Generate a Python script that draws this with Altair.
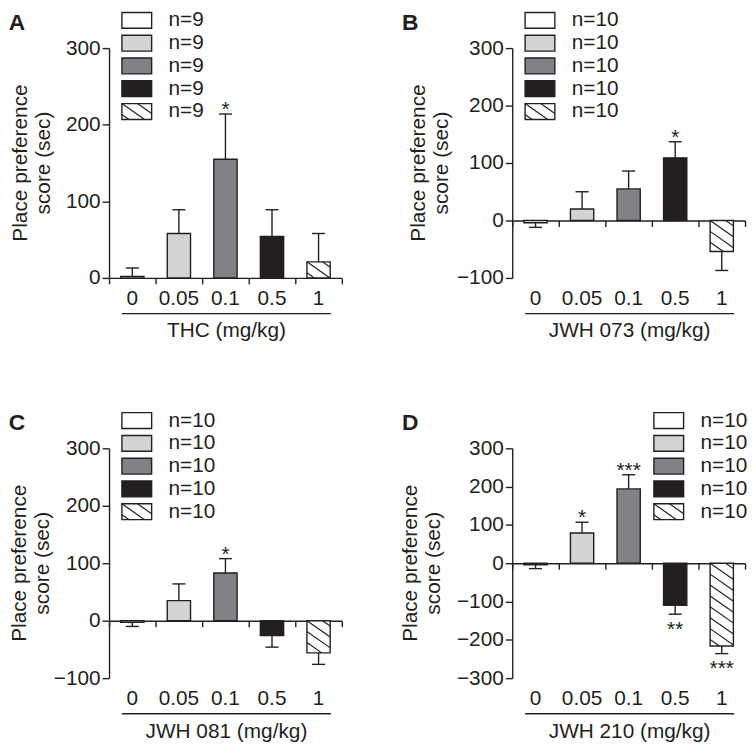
import math
import altair as alt
import pandas as pd

# ---------------- data ----------------
doses = ["0", "0.05", "0.1", "0.5", "1"]
panel_letters = ["A", "B", "C", "D"]
drug_titles = ["THC (mg/kg)", "JWH 073 (mg/kg)", "JWH 081 (mg/kg)", "JWH 210 (mg/kg)"]
group_labels = ["n=9", "n=10", "n=10", "n=10"]

means_thc = [2, 58, 155, 54, 21]
errs_thc = [11, 31, 59, 35, 37]
stars_thc = ["", "", "*", "", ""]

means_073 = [-4, 20, 55, 109, -54]
errs_073 = [8, 30, 31, 28, 33]
stars_073 = ["", "", "", "*", ""]

means_081 = [-3, 35, 83, -26, -56]
errs_081 = [7, 29, 25, 20, 20]
stars_081 = ["", "", "*", "", ""]

means_210 = [-4, 79, 194, -110, -216]
errs_210 = [10, 28, 37, 23, 20]
stars_210 = ["", "*", "***", "**", "***"]

y_domains = [[0, 300], [-100, 300], [-100, 300], [-300, 300]]
y_ticks = [
    [0, 100, 200, 300],
    [-100, 0, 100, 200, 300],
    [-100, 0, 100, 200, 300],
    [-300, -200, -100, 0, 100, 200, 300],
]

all_means = [means_thc, means_073, means_081, means_210]
all_errs = [errs_thc, errs_073, errs_081, errs_210]
all_stars = [stars_thc, stars_073, stars_081, stars_210]

# ---------------- style ----------------
fills = ["#ffffff", "#d1d3d4", "#808285", "#231f20", "#ffffff"]
hatched = [False, False, False, False, True]
INK = "#231f20"
FONT = "Liberation Sans"
FS = 21
W, H = 235, 232
BAR_HALF = 0.25
CAP_HALF = 0.14
HATCH_SLOPE = 0.7
HATCH_GAP = 11
SW = 1.4

letter_x = [-93, -103, -93, -103]
title1_x = [-89, -94, -90, -102]
title2_x = [-66, -71, -67, -79]
legend_x = [13, 13, 13, 143]


def hatch_segments(x0, x1, y0, y1, slope=HATCH_SLOPE, gap=HATCH_GAP):
    """Diagonal hatch lines (pixel space) clipped to rectangle, y grows downward."""
    segs = []
    w = x1 - x0
    k = -int(math.ceil(slope * w / gap)) - 1
    while True:
        c = y0 + k * gap
        if c > y1:
            break
        if c >= y0:
            ex, ey = x0, c
        else:
            ex, ey = x0 + (y0 - c) / slope, y0
        yr = c + slope * w
        if yr <= y1:
            fx, fy = x1, yr
        else:
            fx, fy = x0 + (y1 - c) / slope, y1
        if ex < x1 and fx - ex > 0.5:
            segs.append((ex, ey, fx, fy))
        k += 1
    return segs


def make_panel(i):
    means, errs, stars = all_means[i], all_errs[i], all_stars[i]
    ymin, ymax = y_domains[i]
    xscale = alt.Scale(domain=[-0.5, 4.5], nice=False, zero=False)
    yscale = alt.Scale(domain=[ymin, ymax], nice=False, zero=False)
    ppx = W / 5.0
    ppy = H / float(ymax - ymin)

    rows = []
    for k in range(5):
        m, e = means[k], errs[k]
        sgn = 1 if m >= 0 else -1
        rows.append(dict(pos=k, dose=doses[k], mean=m, end=m + sgn * e,
                         x0=k - BAR_HALF, x1=k + BAR_HALF,
                         c0=k - CAP_HALF, c1=k + CAP_HALF,
                         star=stars[k], fill=fills[k], up=bool(sgn > 0)))
    df = pd.DataFrame(rows)

    zero_from_top = (ymax - 0) * ppy
    x_axis = alt.Axis(values=[k - 0.5 for k in range(6)], labels=False, title=None,
                      tickSize=6, offset=-(H - zero_from_top), grid=False,
                      domainWidth=SW, tickWidth=SW, domainColor=INK, tickColor=INK)
    y_axis = alt.Axis(values=y_ticks[i], title=None, tickSize=7, labelPadding=2,
                      grid=False, format="d", domainWidth=SW, tickWidth=SW,
                      domainColor=INK, tickColor=INK, labelFont=FONT,
                      labelFontSize=FS, labelColor=INK)

    def X(f):
        return alt.X(f, scale=xscale, axis=x_axis)

    def Y(f):
        return alt.Y(f, scale=yscale, axis=y_axis)

    layers = []
    bars = alt.Chart(df).mark_rect(stroke=INK, strokeWidth=SW).encode(
        x=X("x0:Q"), x2="x1:Q",
        y=Y("mean:Q"), y2=alt.datum(0),
        fill=alt.Fill("fill:N", scale=None, legend=None))
    layers.append(bars)

    # hatch inside hatched bars (computed from the bar value via the panel scales)
    hrows = []
    for k in range(5):
        if not hatched[k]:
            continue
        m = means[k]
        px0 = (k - BAR_HALF + 0.5) * ppx
        px1 = (k + BAR_HALF + 0.5) * ppx
        ptop = (ymax - max(m, 0)) * ppy
        pbot = (ymax - min(m, 0)) * ppy
        for (ax, ay, bx, by) in hatch_segments(px0, px1, ptop, pbot):
            hrows.append(dict(hx=ax / ppx - 0.5, hy=ymax - ay / ppy,
                              hx2=bx / ppx - 0.5, hy2=ymax - by / ppy))
    if hrows:
        hatch = alt.Chart(pd.DataFrame(hrows)).mark_rule(color=INK, strokeWidth=1.2).encode(
            x=X("hx:Q"), x2="hx2:Q", y=Y("hy:Q"), y2="hy2:Q")
        layers.append(hatch)

    err = alt.Chart(df).mark_rule(color=INK, strokeWidth=SW).encode(
        x=X("pos:Q"), y=Y("mean:Q"), y2="end:Q")
    cap = alt.Chart(df).mark_rule(color=INK, strokeWidth=SW).encode(
        x=X("c0:Q"), x2="c1:Q", y=Y("end:Q"))
    layers += [err, cap]

    star_up = alt.Chart(df).transform_filter("datum.star != '' && datum.up").mark_text(
        font=FONT, fontSize=FS, color=INK, baseline="alphabetic", dy=2).encode(
        x=X("pos:Q"), y=Y("end:Q"), text="star:N")
    star_dn = alt.Chart(df).transform_filter("datum.star != '' && !datum.up").mark_text(
        font=FONT, fontSize=FS, color=INK, baseline="alphabetic", dy=22).encode(
        x=X("pos:Q"), y=Y("end:Q"), text="star:N")
    layers += [star_up, star_dn]

    labels = alt.Chart(df).mark_text(font=FONT, fontSize=FS, color=INK, baseline="middle").encode(
        x=X("pos:Q"), y=alt.value(H + 21), text="dose:N")
    layers.append(labels)

    one = pd.DataFrame({"k": [0]})
    underline = alt.Chart(one).mark_rule(color=INK, strokeWidth=SW).encode(
        x=alt.value(13), x2=alt.value(W - 11), y=alt.value(H + 36))
    xtitle = alt.Chart(pd.DataFrame({"t": [drug_titles[i]]})).mark_text(
        font=FONT, fontSize=FS, color=INK, baseline="middle").encode(
        x=alt.value((13 + W - 11) / 2.0), y=alt.value(H + 54), text="t:N")
    yt1 = alt.Chart(pd.DataFrame({"t": ["Place preference"]})).mark_text(
        font=FONT, fontSize=FS, color=INK, baseline="middle", angle=270).encode(
        x=alt.value(title1_x[i]), y=alt.value(H / 2.0), text="t:N")
    yt2 = alt.Chart(pd.DataFrame({"t": ["score (sec)"]})).mark_text(
        font=FONT, fontSize=FS, color=INK, baseline="middle", angle=270).encode(
        x=alt.value(title2_x[i]), y=alt.value(H / 2.0), text="t:N")
    letter = alt.Chart(pd.DataFrame({"t": [panel_letters[i]]})).mark_text(
        font=FONT, fontSize=23, fontWeight="bold", color=INK, baseline="middle").encode(
        x=alt.value(letter_x[i]), y=alt.value(-25), text="t:N")
    layers += [underline, xtitle, yt1, yt2, letter]

    # legend
    lx = legend_x[i]
    for r in range(5):
        cy = -28 + 23 * r
        box = alt.Chart(one).mark_rect(fill=fills[r], stroke=INK, strokeWidth=SW).encode(
            x=alt.value(lx), x2=alt.value(lx + 30), y=alt.value(cy - 8), y2=alt.value(cy + 8))
        layers.append(box)
        if hatched[r]:
            for (ax, ay, bx, by) in hatch_segments(lx, lx + 30, cy - 8, cy + 8):
                layers.append(alt.Chart(one).mark_rule(color=INK, strokeWidth=1.2).encode(
                    x=alt.value(ax), x2=alt.value(bx), y=alt.value(ay), y2=alt.value(by)))
        txt = alt.Chart(pd.DataFrame({"t": [group_labels[i]]})).mark_text(
            font=FONT, fontSize=FS, color=INK, baseline="middle", align="left").encode(
            x=alt.value(lx + 47), y=alt.value(cy), text="t:N")
        layers.append(txt)

    return alt.layer(*layers).properties(width=W, height=H)


panels = [make_panel(i) for i in range(4)]
chart = alt.concat(*panels, columns=2, spacing={"row": 172, "column": 172},
                   bounds="flush").properties(
    padding={"top": -2, "left": 0, "right": 0, "bottom": 0}, background="white")
chart = chart.configure_view(stroke=None).configure_axis(grid=False)

chart.save("out.html", embed_options={"renderer": "svg", "actions": False})
